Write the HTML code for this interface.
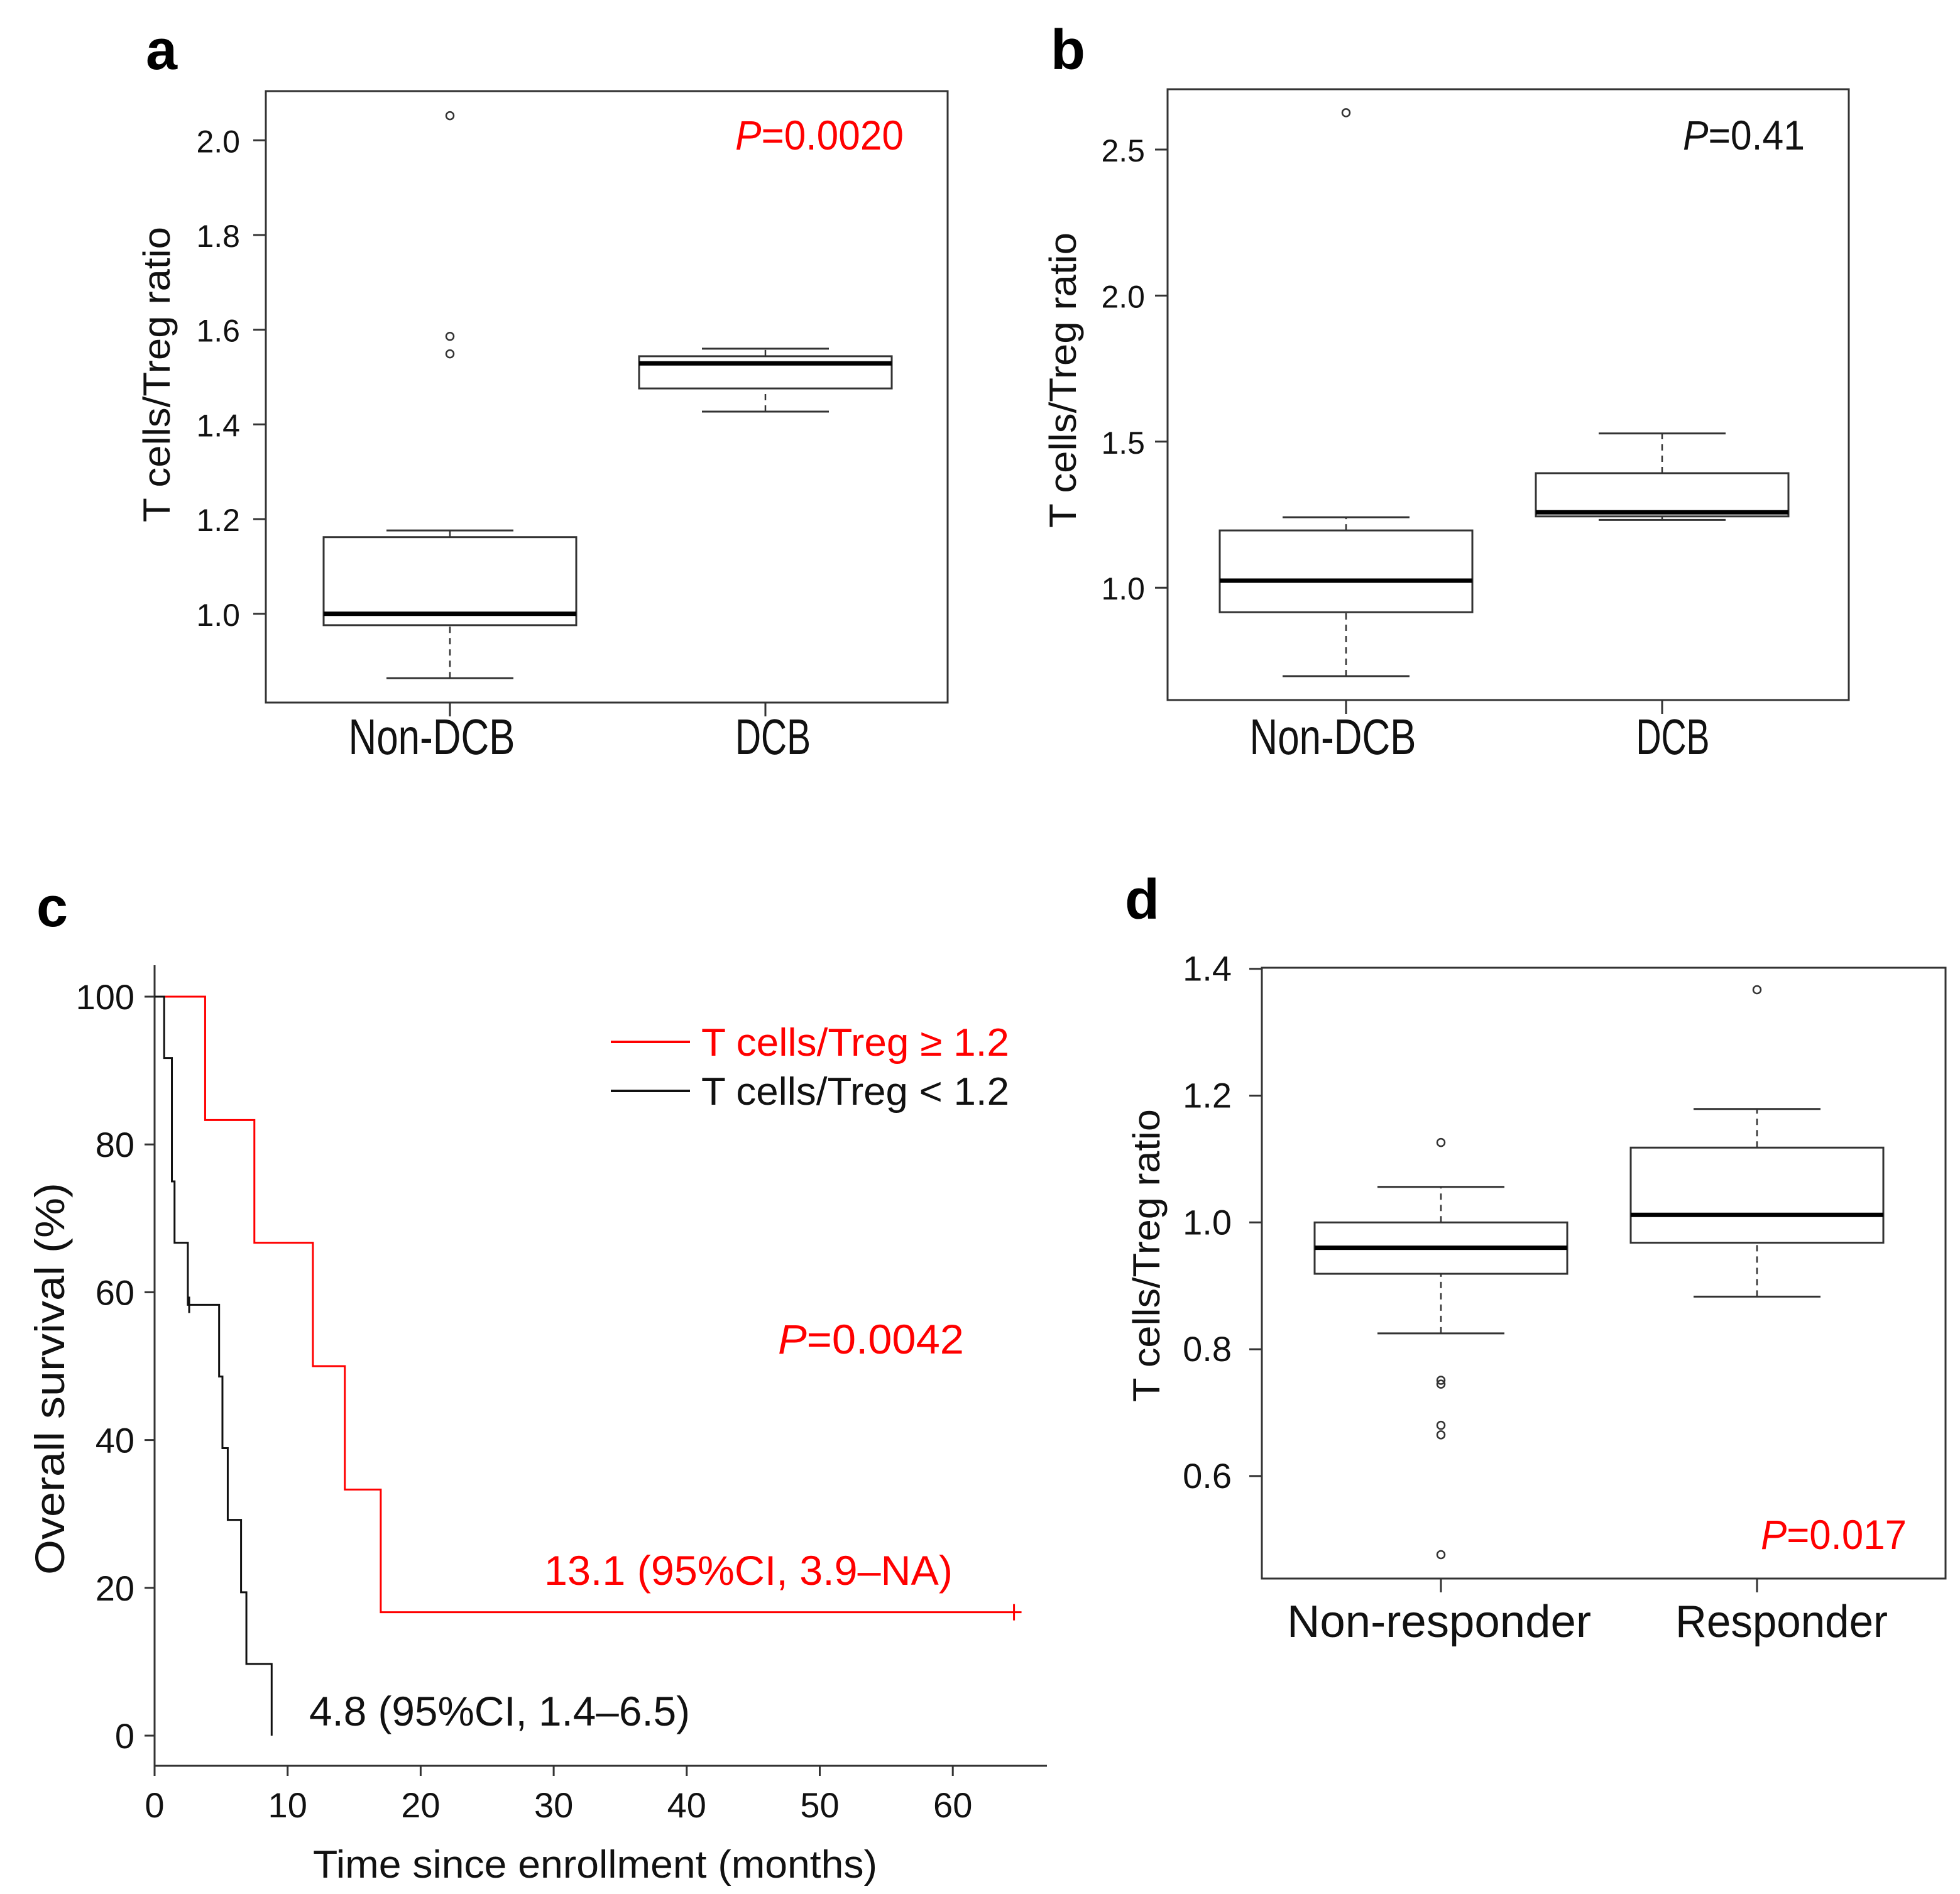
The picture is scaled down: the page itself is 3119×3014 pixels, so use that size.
<!DOCTYPE html>
<html><head><meta charset="utf-8"><style>html,body{margin:0;padding:0;background:#fff}svg{display:block}text{font-family:"Liberation Sans",sans-serif}</style></head>
<body>
<svg id="fig" width="3119" height="3014" viewBox="0 0 3119 3014" xmlns="http://www.w3.org/2000/svg">
<rect width="3119" height="3014" fill="#fff"/>
<text x="232" y="110" font-size="90" font-weight="bold">a</text>
<text x="1672" y="110" font-size="90" font-weight="bold">b</text>
<text x="58" y="1474" font-size="90" font-weight="bold">c</text>
<text x="1790" y="1462" font-size="90" font-weight="bold">d</text>
<g id="pa"></g>
<g id="pb"></g>
<g id="pc"></g>
<g id="pd"></g>
</svg>
<script>
// Panel a data
const aCats = ["Non-DCB", "DCB"];
const aStats = [[0.864, 0.976, 1.0, 1.162, 1.176], [1.427, 1.476, 1.529, 1.544, 1.560]];
const aOut = [[2.052, 1.586, 1.549], []];
const aTicks = [1.0, 1.2, 1.4, 1.6, 1.8, 2.0];
// Panel b data
const bCats = ["Non-DCB", "DCB"];
const bStats = [[0.697, 0.916, 1.024, 1.196, 1.241], [1.232, 1.244, 1.258, 1.392, 1.528]];
const bOut = [[2.626], []];
const bTicks = [1.0, 1.5, 2.0, 2.5];
// Panel d data
const dCats = ["Non-responder", "Responder"];
const dStats = [[0.825, 0.919, 0.960, 1.0, 1.056], [0.883, 0.968, 1.012, 1.118, 1.179]];
const dOut = [[1.126, 0.751, 0.745, 0.680, 0.665, 0.476], [1.367]];
const dTicks = [0.6, 0.8, 1.0, 1.2, 1.4];
// Panel c data (Kaplan-Meier)
const redTimes = [0, 3.8, 7.5, 11.9, 14.3, 17.0, 64.6];
const redSurv = [100, 83.3, 66.7, 50.0, 33.3, 16.7, 16.7];
const redCensorT = [64.6];
const redCensorS = [16.7];
const blkTimes = [0, 0.72, 1.3, 1.5, 2.5, 4.85, 5.1, 5.5, 6.5, 6.9, 8.8];
const blkSurv = [100, 91.7, 75.0, 66.7, 58.3, 48.6, 38.9, 29.2, 19.4, 9.7, 0];
const blkCensorT = [2.6];
const blkCensorS = [58.3];
const cXTicks = [0, 10, 20, 30, 40, 50, 60];
const cYTicks = [0, 20, 40, 60, 80, 100];

const NS = "http://www.w3.org/2000/svg";
function mk(parent, tag, attrs, txt) {
  const e = document.createElementNS(NS, tag);
  for (const k in attrs) e.setAttribute(k, attrs[k]);
  if (txt !== undefined) e.textContent = txt;
  parent.appendChild(e);
  return e;
}
const LC = "#333";

function boxPanel(g, cfg) {
  const y = v => cfg.y0 + (v - cfg.v0) * cfg.k;
  const fr = mk(g, "rect", {x: cfg.L, y: cfg.T, width: cfg.R - cfg.L, height: cfg.B - cfg.T, fill: "none", stroke: LC, "stroke-width": 3});
  
  
  cfg.ticks.forEach(t => {
    const ln = mk(g, "line", {x1: cfg.L - 20, x2: cfg.L, y1: y(t), y2: y(t), stroke: LC, "stroke-width": 3});
    
    
    const tx = mk(g, "text", {x: cfg.tickX, y: y(t) + 19, "font-size": cfg.tickFs, "text-anchor": "end", fill: "#111"}, t.toFixed(1));
    
    
  });
  cfg.stats.forEach((s, i) => {
    const cx = cfg.cx[i], hw = 201, cw = 101;
    const bg = mk(g, "g", {});
    
    
    mk(bg, "line", {x1: cx, x2: cx, y1: y(s[0]), y2: y(s[1]), stroke: LC, "stroke-width": 2.5, "stroke-dasharray": "10,8"});
    mk(bg, "line", {x1: cx, x2: cx, y1: y(s[3]), y2: y(s[4]), stroke: LC, "stroke-width": 2.5, "stroke-dasharray": "10,8"});
    mk(bg, "line", {x1: cx - cw, x2: cx + cw, y1: y(s[0]), y2: y(s[0]), stroke: LC, "stroke-width": 3});
    mk(bg, "line", {x1: cx - cw, x2: cx + cw, y1: y(s[4]), y2: y(s[4]), stroke: LC, "stroke-width": 3});
    mk(bg, "rect", {x: cx - hw, y: y(s[3]), width: 2 * hw, height: y(s[1]) - y(s[3]), fill: "#fff", stroke: LC, "stroke-width": 3});
    mk(bg, "line", {x1: cx - hw, x2: cx + hw, y1: y(s[2]), y2: y(s[2]), stroke: "#000", "stroke-width": 7});
    cfg.out[i].forEach(o => {
      const c = mk(g, "circle", {cx: cx, cy: y(o), r: 6, fill: "none", stroke: LC, "stroke-width": 2.5});
      
      
    });
    const tk = mk(g, "line", {x1: cx, x2: cx, y1: cfg.B, y2: cfg.B + 22, stroke: LC, "stroke-width": 3});
    
    
    const lb = mk(g, "text", {x: cfg.lx[i], y: cfg.lblY, "font-size": cfg.lblFs, "text-anchor": "middle", textLength: cfg.lw[i], lengthAdjust: "spacingAndGlyphs", fill: "#111"}, cfg.cats[i]);
    
    
  });
  const yt = mk(g, "text", {x: 0, y: 0, "font-size": cfg.titleFs, "text-anchor": "middle", textLength: cfg.titleLen, lengthAdjust: "spacingAndGlyphs", transform: `translate(${cfg.titleX},${cfg.titleY}) rotate(-90)`, fill: "#111"}, "T cells/Treg ratio");
  
  
  const p = mk(g, "text", {x: cfg.pX, y: cfg.pY, "font-size": cfg.pFs, "text-anchor": "end", textLength: cfg.pLen, lengthAdjust: "spacingAndGlyphs", fill: cfg.pCol});
  
  
  mk(p, "tspan", {"font-style": "italic"}, "P");
  mk(p, "tspan", {}, "=" + cfg.pTxt);
}

boxPanel(document.getElementById("pa"), {L: 423, R: 1508, T: 145, B: 1118, y0: 976.8, v0: 1.0, k: -753.5,
  ticks: aTicks, tickX: 382, tickFs: 50, stats: aStats, out: aOut, cats: aCats, cx: [716, 1218],
  lx: [687, 1230], lw: [265, 120], lblY: 1200, lblFs: 80, titleX: 270, titleY: 596, titleFs: 60, titleLen: 470,
  pX: 1438, pY: 238, pFs: 66, pLen: 268, pCol: "#f00", pTxt: "0.0020"});
boxPanel(document.getElementById("pb"), {L: 1858, R: 2942, T: 142, B: 1114, y0: 935.2, v0: 1.0, k: -464.8,
  ticks: bTicks, tickX: 1822, tickFs: 50, stats: bStats, out: bOut, cats: bCats, cx: [2142, 2645],
  lx: [2121, 2662], lw: [265, 117], lblY: 1200, lblFs: 80, titleX: 1712, titleY: 605, titleFs: 60, titleLen: 470,
  pX: 2872, pY: 238, pFs: 66, pLen: 194, pCol: "#111", pTxt: "0.41"});
boxPanel(document.getElementById("pd"), {L: 2008, R: 3096, T: 1540, B: 2512, y0: 1541.7, v0: 1.4, k: -1009,
  ticks: dTicks, tickX: 1960, tickFs: 56, stats: dStats, out: dOut, cats: dCats, cx: [2293, 2796],
  lx: [2290, 2835], lw: [484, 338], lblY: 2605, lblFs: 72, titleX: 1845, titleY: 1998, titleFs: 60, titleLen: 466,
  pX: 3034, pY: 2465, pFs: 66, pLen: 232, pCol: "#f00", pTxt: "0.017"});

// Panel c
(function () {
  const g = document.getElementById("pc");
  const X = t => 246 + t * 21.17;
  const Y = s => 2762 - s * 11.76;
  const ax = mk(g, "path", {d: "M246,1536 V2810 H1666", fill: "none", stroke: LC, "stroke-width": 3});
  
  
  cYTicks.forEach(t => {
    const l = mk(g, "line", {x1: 230, x2: 246, y1: Y(t), y2: Y(t), stroke: LC, "stroke-width": 3});
    
    
    const tx = mk(g, "text", {x: 214, y: Y(t) + 20, "font-size": 56, "text-anchor": "end", fill: "#111"}, String(t));
    
    
  });
  cXTicks.forEach(t => {
    const l = mk(g, "line", {x1: X(t), x2: X(t), y1: 2810, y2: 2826, stroke: LC, "stroke-width": 3});
    
    
    const tx = mk(g, "text", {x: X(t), y: 2892, "font-size": 56, "text-anchor": "middle", fill: "#111"}, String(t));
    
    
  });
  function stepPath(ts, ss) {
    let d = `M${X(ts[0])},${Y(ss[0])}`;
    for (let i = 1; i < ts.length; i++) d += ` H${X(ts[i])} V${Y(ss[i])}`;
    return d;
  }
  const rp = mk(g, "path", {d: stepPath(redTimes, redSurv), fill: "none", stroke: "#f00", "stroke-width": 3});
  
  
  const bp = mk(g, "path", {d: stepPath(blkTimes, blkSurv), fill: "none", stroke: "#111", "stroke-width": 3});
  
  
  mk(g, "line", {x1: X(redCensorT[0]), x2: X(redCensorT[0]) + 12, y1: Y(redCensorS[0]), y2: Y(redCensorS[0]), stroke: "#f00", "stroke-width": 3});
  redCensorT.forEach((t, i) => {
    const c = mk(g, "line", {x1: X(t), x2: X(t), y1: Y(redCensorS[i]) - 13, y2: Y(redCensorS[i]) + 13, stroke: "#f00", "stroke-width": 3});
    
    
  });
  blkCensorT.forEach((t, i) => {
    const c = mk(g, "line", {x1: X(t), x2: X(t), y1: Y(blkCensorS[i]) - 13, y2: Y(blkCensorS[i]) + 13, stroke: "#111", "stroke-width": 3});
    
    
  });
  const l1 = mk(g, "line", {x1: 972, x2: 1098, y1: 1658, y2: 1658, stroke: "#f00", "stroke-width": 4});
  
  
  const t1 = mk(g, "text", {x: 1116, y: 1680, "font-size": 62, textLength: 490, lengthAdjust: "spacingAndGlyphs", fill: "#f00"}, "T cells/Treg \u2265 1.2");
  
  
  const l2 = mk(g, "line", {x1: 972, x2: 1098, y1: 1736, y2: 1736, stroke: "#111", "stroke-width": 4});
  
  
  const t2 = mk(g, "text", {x: 1116, y: 1758, "font-size": 62, textLength: 490, lengthAdjust: "spacingAndGlyphs", fill: "#111"}, "T cells/Treg  < 1.2");
  
  
  const p = mk(g, "text", {x: 1238, y: 2154, "font-size": 66, textLength: 296, lengthAdjust: "spacingAndGlyphs", fill: "#f00"});
  
  
  mk(p, "tspan", {"font-style": "italic"}, "P");
  mk(p, "tspan", {}, "=0.0042");
  const m1 = mk(g, "text", {x: 866, y: 2522, "font-size": 66, textLength: 650, lengthAdjust: "spacingAndGlyphs", fill: "#f00"}, "13.1 (95%CI, 3.9\u2013NA)");
  
  
  const m2 = mk(g, "text", {x: 492, y: 2746, "font-size": 66, textLength: 606, lengthAdjust: "spacingAndGlyphs", fill: "#111"}, "4.8 (95%CI, 1.4\u20136.5)");
  
  
  const xt = mk(g, "text", {x: 947, y: 2988, "font-size": 62, "text-anchor": "middle", textLength: 898, lengthAdjust: "spacingAndGlyphs", fill: "#111"}, "Time since enrollment (months)");
  
  
  const yt = mk(g, "text", {x: 0, y: 0, "font-size": 66, "text-anchor": "middle", textLength: 624, lengthAdjust: "spacingAndGlyphs", transform: "translate(102,2194) rotate(-90)", fill: "#111"}, "Overall survival (%)");
  
  
})();
</script>
</body></html>
